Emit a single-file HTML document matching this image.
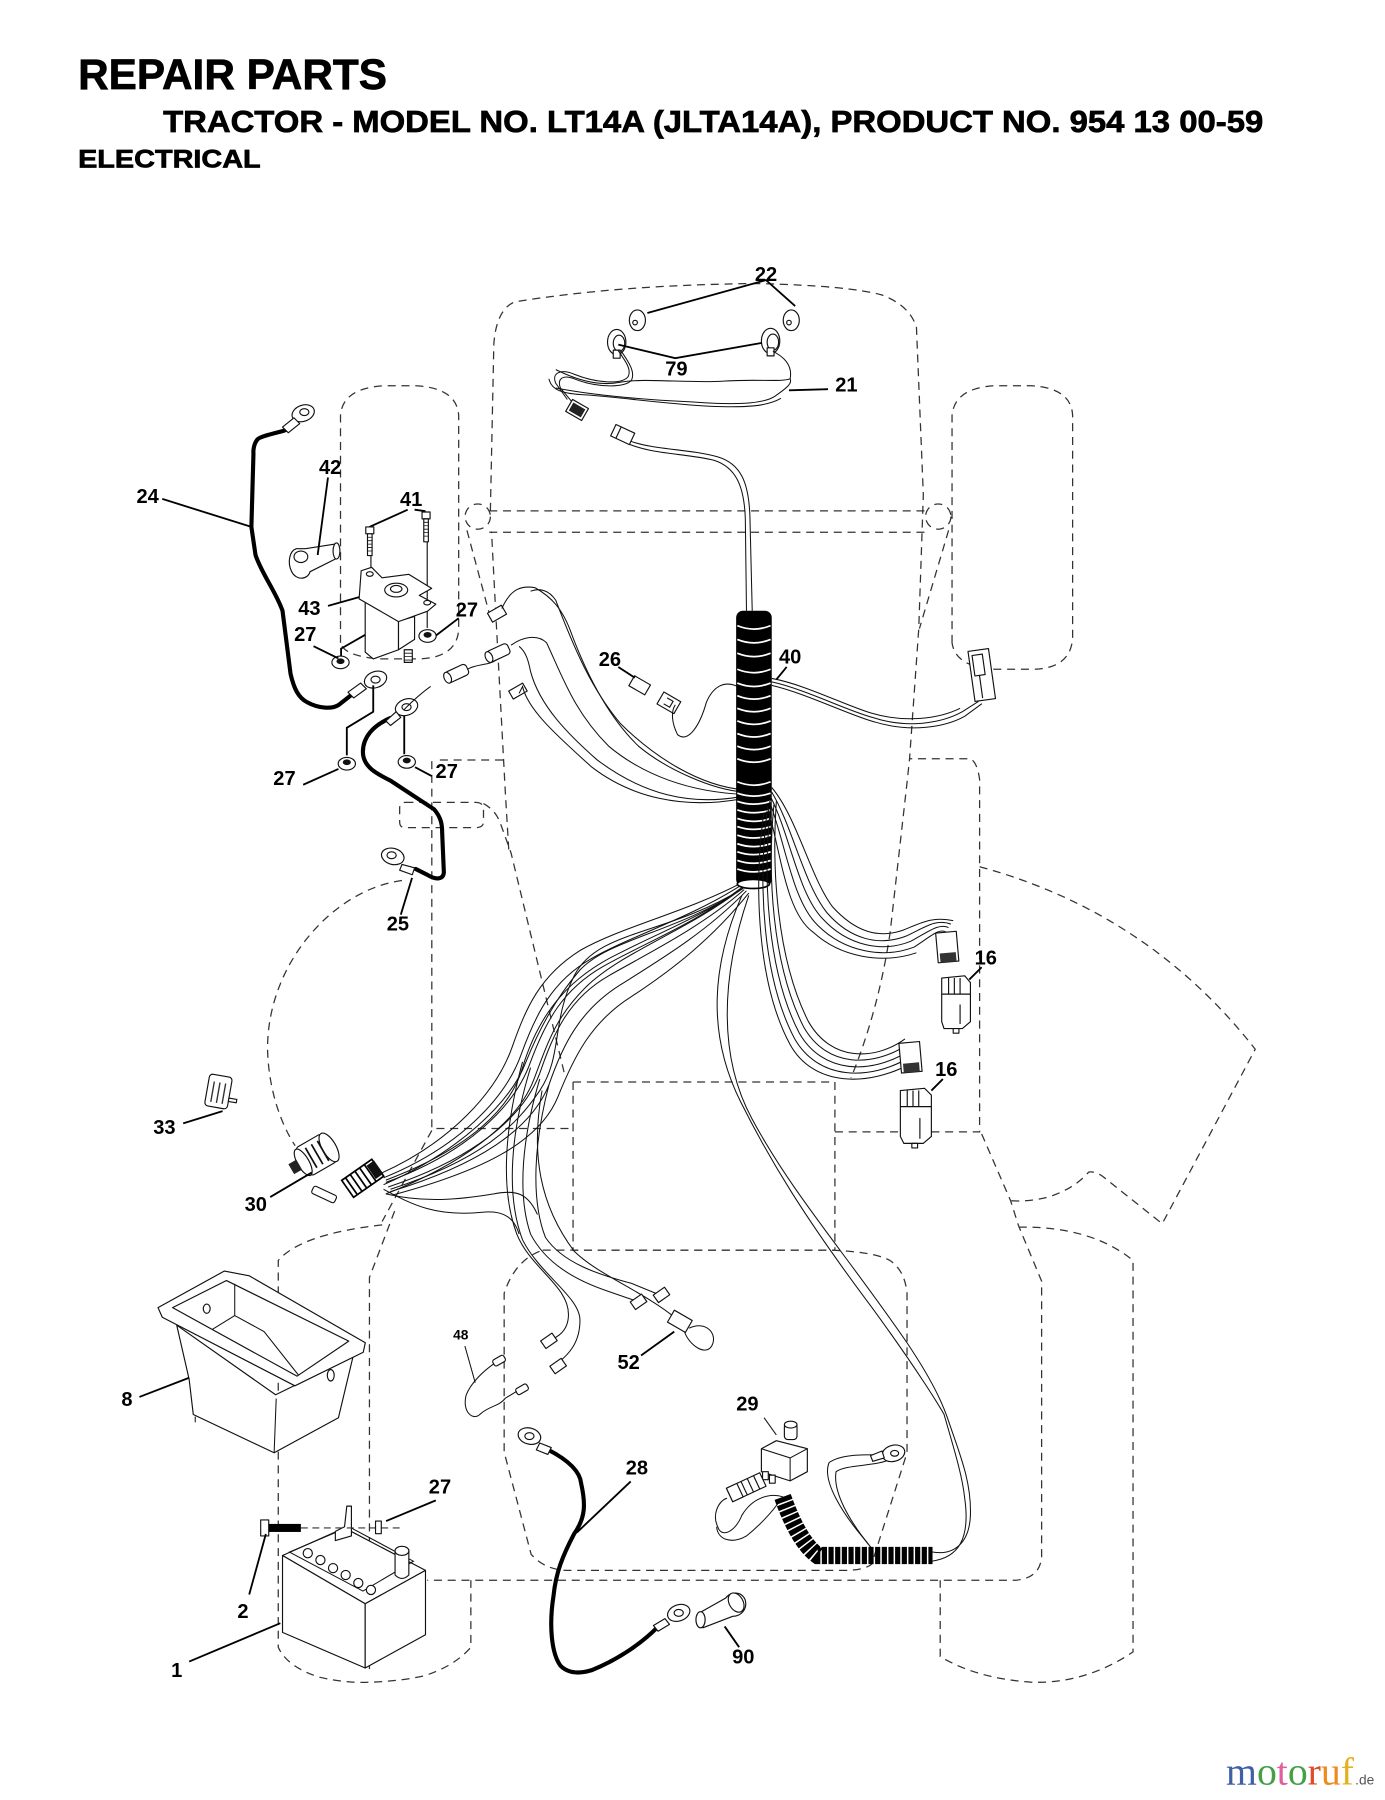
<!DOCTYPE html>
<html><head><meta charset="utf-8"><style>
html,body{margin:0;padding:0;background:#fff;}
svg{display:block;}
.d{fill:none;stroke:#333;stroke-width:1.1;stroke-dasharray:7 5;}
.w{fill:none;stroke:#111;stroke-width:0.9;}
.c{fill:none;stroke:#000;stroke-width:3.6;stroke-linecap:round;stroke-linejoin:round;}
.l{fill:none;stroke:#000;stroke-width:1.6;}
.p{fill:#fff;stroke:#111;stroke-width:1;stroke-linejoin:round;}
.t{font-family:"Liberation Sans",Arial,sans-serif;font-weight:bold;font-size:17.5px;fill:#000;text-anchor:middle;}
.h{font-family:"Liberation Sans",Arial,sans-serif;font-weight:bold;fill:#000;stroke:#000;stroke-width:0.6;}
</style></head><body>
<svg width="1385" height="1800" viewBox="0 0 1206 1568" preserveAspectRatio="none" xmlns="http://www.w3.org/2000/svg">
<rect width="1206" height="1568" fill="#fff"/>
<!-- titles -->
<text class="h" x="68" y="77.5" font-size="37.5" textLength="269" lengthAdjust="spacingAndGlyphs">REPAIR PARTS</text>
<text class="h" x="142" y="115" font-size="26.5" textLength="958" lengthAdjust="spacingAndGlyphs">TRACTOR - MODEL NO. LT14A (JLTA14A), PRODUCT NO. 954 13 00-59</text>
<text class="h" x="68" y="146" font-size="22" textLength="159" lengthAdjust="spacingAndGlyphs">ELECTRICAL</text>

<!-- dashed tractor outline -->
<path class="d" d="M443,740 L440,690 L432,540 L428,463 M427,445 L430,300 Q432,270 448,263 Q540,248 660,247 Q740,249 768,257 Q792,266 798,285 L804,431 L800,548 L792,661 L790,680 L775,813 Q765,880 741,939"/>
<path class="d" d="M426,445 H806 M426,463.6 H806"/>
<circle class="d" cx="416" cy="450" r="11"/>
<circle class="d" cx="817" cy="450" r="11"/>
<path class="d" d="M406.6,462 L428,541.6 M826,462 L800.6,547.6"/>
<path class="d" d="M296.5,560 V362 Q298,338 335,336 H362 Q398,338 399.4,362 V548 Q398,574 362,574 H332 Q300,572 296.5,560 Z"/>
<path class="d" d="M829,560 V362 Q831,338 866,336 H898 Q933,338 934,362 V556 Q932,583 898,583 H866 Q832,581 829,560 Z"/>
<path class="d" d="M383,662 H439 M376,663 V983 H495"/>
<path class="d" d="M353,699 H414 Q421,699 421,705 V716 Q421,721 414,721 H353 Q348,721 348,716 V704 Q348,699 353,699 Z M421,700 Q432,706 436,718 L445,743 L491.6,935.8"/>
<path class="d" d="M499,942.5 H727 V1089 M499,942.5 V1089 H727"/>
<path class="d" d="M727,986 H853 V679 Q851,664 845,661 H792"/>
<path class="d" d="M853,755 Q1000,795 1093,914 L1012,1066 L963,1027 Q955,1020 948,1021 Q935,1036 912,1043 Q895,1047 880,1046"/>
<path class="d" d="M854.8,987.8 L880,1046 L887,1068 L907,1116 V1357 Q905,1375 884,1376.6 H372"/>
<path class="d" d="M887,1069 Q950,1068 986.6,1098 V1439 Q945,1467 898,1465.4 Q850,1462 818.7,1443 V1376.6"/>
<path class="d" d="M469.8,1090 Q448,1099 439,1126.6 V1265 L462.5,1354 Q475,1368 495,1368 H735 Q752,1368 759,1362.6 L789.8,1265.5 V1126.6 Q788,1107 775,1098 Q760,1090 721,1089 H469.8"/>
<path class="d" d="M332.8,1067 Q262,1075 242.3,1098 V1435 Q250,1452 278,1461 Q300,1466 318,1465.5 Q345,1465 368.7,1460 Q395,1452 410,1435 V1376.6"/>
<path class="d" d="M343.6,1055 L321.7,1112.8 V1454 M376,984.7 L332.8,1064"/>
<path class="d" d="M350,767 C290,775 232,840 233,915 C234,950 245,980 257,998"/>

<!-- headlights -->
<ellipse class="p" cx="555" cy="279" rx="7" ry="9"/><circle cx="553" cy="281" r="2" class="p"/>
<ellipse class="p" cx="537" cy="298" rx="8" ry="11"/><ellipse class="p" cx="539" cy="299" rx="5" ry="7"/>
<rect class="p" x="534" y="305" width="6" height="7"/>
<ellipse class="p" cx="689" cy="279" rx="7" ry="9"/><circle cx="687" cy="281" r="2" class="p"/>
<ellipse class="p" cx="671" cy="297" rx="8" ry="11"/><ellipse class="p" cx="673" cy="298" rx="5" ry="7"/>
<rect class="p" x="668" y="303" width="6" height="7"/>
<path class="l" d="M563.7,272.7 L667,244 L692.4,266.6 M538.4,300.2 L588,312 L663.5,298.7"/>
<!-- headlight harness -->
<path class="w" d="M538,305 C545,315 550,322 547,328 C542,335 520,334 500,326 C488,321 480,325 484,334 L494,348"/>
<path class="w" d="M541,306 C548,316 553,324 550,331 C545,338 520,338 500,330 C490,326 485,330 488,338 L498,350"/>
<path class="w" d="M484,322 C500,330 520,337 540,333 C560,329 600,334 630,332 C660,330 680,333 688,330 C690,320 685,312 673,306"/>
<path class="w" d="M484,338 C520,345 560,348 600,350 C640,353 665,352 675,345 C685,338 690,334 688,330"/>
<path class="w" d="M478,330 C480,340 490,343 510,344 C540,346 580,352 620,354 C650,355 668,354 680,347"/>
<path class="w" d="M548,384 C570,392 600,391 625,398 C645,404 652,420 653,450 L655,532"/>
<path class="w" d="M548,387 C570,396 598,395 622,401 C640,407 648,422 649,452 L650,532"/>
<g transform="rotate(30 502 358)"><rect class="p" x="494" y="351" width="16" height="12"/><rect x="496" y="353" width="12" height="8" fill="#222"/></g>
<g transform="rotate(25 542 379)"><rect class="p" x="533" y="373" width="18" height="11"/><line x1="538" y1="373" x2="538" y2="384" stroke="#111"/></g>
<text class="t" x="667" y="245">22</text>
<text class="t" x="589" y="327">79</text>
<text class="t" x="737" y="341">21</text>
<path class="l" d="M721,339 L687,340"/>

<!-- cable 24 -->
<path class="c" d="M250,374 L247.7,375 C238,378 226,380 224,383 C220,388 220.7,395 220.7,395 L218.9,459 L222.5,483.5 C228,500 240,515 246,532 L253,587 C256,600 260,608 267.6,611.8 C277,617 289,618 295,614 L305.5,605.7"/>
<ellipse class="p" cx="264" cy="360" rx="10" ry="7" transform="rotate(-20 264 360)"/><ellipse cx="265" cy="359" rx="4" ry="3" class="p"/>
<path class="p" d="M246,372 L256,364 L261,369 L251,377 Z"/>
<ellipse class="p" cx="327" cy="592" rx="10" ry="7" transform="rotate(-20 327 592)"/><ellipse cx="327" cy="592" rx="4" ry="3" class="p"/>
<path class="p" d="M303,603 L314,595 L319,600 L308,608 Z"/>
<text class="t" x="128.6" y="438">24</text>
<path class="l" d="M141.3,434.6 L218.9,459"/>
<!-- 42 boot -->
<path class="p" d="M258,478 C252,480 250,490 254,498 C258,506 268,505 270,498 L294,486 L291,474 L266,478 Z"/>
<ellipse class="p" cx="293" cy="480" rx="3" ry="7"/>
<ellipse class="p" cx="262" cy="485" rx="6" ry="5"/>
<text class="t" x="287.5" y="413">42</text>
<path class="l" d="M285.6,416 L276.6,483.5"/>
<!-- 41 bolts -->
<text class="t" x="358" y="441">41</text>
<path class="l" d="M355,444 L321.7,459 M361,444 L370.5,445.3"/>
<rect class="p" x="318.5" y="459" width="7" height="6"/>
<rect class="p" x="320" y="465" width="4" height="19"/>
<path d="M320,468 h4 M320,471 h4 M320,474 h4 M320,477 h4 M320,480 h4" stroke="#111" stroke-width="0.7"/>
<line x1="323" y1="484" x2="323" y2="497" stroke="#111"/>
<rect class="p" x="367.5" y="446" width="7" height="6"/>
<rect class="p" x="369" y="452" width="4" height="20"/>
<path d="M369,455 h4 M369,458 h4 M369,461 h4 M369,464 h4 M369,467 h4" stroke="#111" stroke-width="0.7"/>
<line x1="372" y1="472" x2="372" y2="547" stroke="#111"/>
<!-- solenoid 43 -->
<path class="p" d="M318,523 L318,568 L325,574 L347,566 L347,541 Z"/>
<path class="p" d="M347,541 L361,537 L361,557 L347,566 Z"/>
<path class="p" d="M314.5,497.2 L323.6,494.2 L332.6,503.3 L356,500.3 L375.9,512.5 L365.1,518.6 L379.5,526.3 L372.3,532.4 L347,541.5 L312.7,521.7 Z"/>
<ellipse class="p" cx="345" cy="514" rx="10" ry="6"/><ellipse class="p" cx="345" cy="513" rx="5" ry="3"/>
<ellipse cx="322" cy="500" rx="3" ry="2" class="p"/><ellipse cx="372" cy="525" rx="3" ry="2" class="p"/>
<rect class="p" x="352" y="566" width="7" height="11"/>
<path d="M352,569 h7 M352,572 h7 M352,575 h7" stroke="#111" stroke-width="0.7"/>
<path class="l" d="M297,576 L297,565 L318,553"/>
<text class="t" x="269.4" y="535.6">43</text>
<path class="l" d="M285.6,527.8 L312.7,520.2"/>
<!-- nuts 27 -->
<g class="p"><ellipse cx="372.3" cy="554" rx="7.5" ry="5.5"/><ellipse cx="296.5" cy="577" rx="7.5" ry="5.5"/><ellipse cx="302" cy="665.3" rx="7.5" ry="5.5"/><ellipse cx="354.2" cy="663.7" rx="7.5" ry="5.5"/></g>
<g fill="#111"><ellipse cx="372.3" cy="553" rx="3.5" ry="2.5"/><ellipse cx="296.5" cy="576" rx="3.5" ry="2.5"/><ellipse cx="302" cy="664" rx="3.5" ry="2.5"/><ellipse cx="354.2" cy="662.5" rx="3.5" ry="2.5"/></g>
<text class="t" x="406.6" y="537">27</text><path class="l" d="M399.4,538.5 L379.5,553.7"/>
<text class="t" x="265.8" y="558.5">27</text><path class="l" d="M273,562.9 L294.7,573.6"/>
<text class="t" x="247.7" y="684">27</text><path class="l" d="M264,683.6 L294.7,669.8"/>
<text class="t" x="389" y="677.7">27</text><path class="l" d="M375.9,676 L361.4,668.3"/>
<path class="l" d="M325,597 L325,620 L302,634 L302,658 M352,620 L352,657"/>
<!-- cable 25 -->
<path class="c" d="M339.8,625.5 C325,632 316,642 316,655 C316,668 328,674 340,680 L378,705 C384,712 385,718 385,725 L386.5,760 C386,766 380,767 372,762 L362,757"/>
<ellipse class="p" cx="354" cy="616" rx="10" ry="7" transform="rotate(-20 354 616)"/><ellipse cx="354" cy="616" rx="4" ry="3" class="p"/>
<path class="p" d="M336,628 L345,620 L349,625 L340,632 Z"/>
<ellipse class="p" cx="342" cy="746" rx="10" ry="7" transform="rotate(15 342 746)"/><ellipse cx="341" cy="745" rx="4" ry="3" class="p"/>
<path class="p" d="M350,753 L361,756 L359,762 L348,758 Z"/>
<text class="t" x="346.5" y="810.7">25</text>
<path class="l" d="M349,796.8 L358.8,764.7"/>

<!-- small connectors near solenoid -->
<g transform="rotate(-30 433 535)"><rect class="p" x="426" y="530" width="14" height="9"/></g>
<g transform="rotate(-25 433 569)"><rect class="p" x="424" y="564" width="20" height="10" rx="3"/><ellipse class="p" cx="425" cy="569" rx="3" ry="5"/></g>
<g transform="rotate(-25 397 587)"><rect class="p" x="388" y="582" width="20" height="10" rx="3"/><ellipse class="p" cx="389" cy="587" rx="3" ry="5"/></g>
<g transform="rotate(-30 451 602)"><rect class="p" x="444" y="598" width="14" height="8"/></g>
<path class="w" d="M407,583 C415,578 425,580 432,575 M375,598 C365,605 358,612 352,618"/>
<!-- 26 -->
<g transform="rotate(30 557 597)"><rect class="p" x="549" y="592" width="16" height="10"/></g>
<g transform="rotate(30 582 612)"><rect class="p" x="574" y="606" width="17" height="12"/><path d="M579,609 h6 v6 h-6" fill="none" stroke="#111"/></g>
<text class="t" x="531.1" y="580">26</text>
<path class="l" d="M538.4,581 L552.8,590.4"/>
<!-- wires upper left into tube -->
<path class="w" d="M648,690 C620,688 580,670 556,650 C530,625 512,590 498,553 C490,530 480,520 466,512 C455,510 445,512 437,530"/>
<path class="w" d="M648,688 C610,685 570,660 540,630 C515,600 500,565 484,523 C478,514 470,512 462,515"/>
<path class="w" d="M648,692 C600,690 560,675 530,650 C500,620 490,590 476,560 C468,552 455,555 445,562"/>
<path class="w" d="M645,694 C600,702 560,692 520,662 C495,640 470,615 462,585 C460,575 458,568 452,563"/>
<path class="w" d="M645,696 C595,705 550,695 515,668 C490,645 460,620 455,598 L452,604"/>
<path class="w" d="M646,600 C630,590 620,600 615,612 C610,630 600,648 590,640 C585,630 584,620 588,614"/>
<path class="w" d="M672,594 C700,600 740,620 760,625 C790,635 820,630 838,620 L852,611"/>
<path class="w" d="M672,597 C702,604 742,624 762,629 C792,638 822,634 840,624 L855,613"/>
<path class="w" d="M672,591 C700,596 735,614 758,621 C788,630 818,626 836,617"/>
<g transform="rotate(-8 855 589)"><rect class="p" x="846" y="566" width="18" height="44"/><rect class="p" x="849" y="570" width="9" height="18"/><line x1="853" y1="588" x2="853" y2="608" stroke="#111"/></g>

<!-- tube 40 -->
<rect x="641" y="532" width="31" height="240" rx="6" fill="#000"/>
<g fill="none" stroke="#fff" stroke-width="1.5">
<path d="M642,545 Q656.5,551 671,545 M642,557 Q656.5,563 671,557 M642,569 Q656.5,575 671,569 M642,583 Q656.5,589 671,583 M642,595 Q656.5,601 671,595 M642,606 Q656.5,612 671,606 M642,617 Q656.5,623 671,617 M642,628 Q656.5,634 671,628 M642,639 Q656.5,645 671,639 M642,650 Q656.5,656 671,650 M642,661 Q656.5,667 671,661 M642,681 Q656.5,687 671,681"/>
<path d="M642,691 Q656.5,696 671,691 M642,698 Q656.5,703 671,698 M642,705.5 Q656.5,710.5 671,705.5 M642,713 Q656.5,718 671,713 M642,720 Q656.5,725 671,720 M642,727.5 Q656.5,732.5 671,727.5 M642,735 Q656.5,740 671,735 M642,742 Q656.5,747 671,742 M642,749.5 Q656.5,754.5 671,749.5 M642,757 Q656.5,762 671,757"/>
</g>
<ellipse cx="656" cy="770" rx="14" ry="4" fill="#fff" stroke="#000" stroke-width="1.5"/>
<text class="t" x="688" y="578">40</text>
<path class="l" d="M685,581 L676,592"/>

<!-- fan to ignition -->
<g class="w">
<path d="M646,773 C605,805 560,822 525,842 C490,862 475,890 462,925 C448,965 405,1005 336,1030"/>
<path d="M648,775 C610,808 565,830 530,850 C495,870 482,900 470,935 C455,975 410,1010 338,1034"/>
<path d="M644,772 C600,800 550,815 515,835 C480,855 466,885 454,918 C440,958 398,1000 334,1026"/>
<path d="M650,776 C615,812 575,836 540,858 C505,880 490,910 478,945 C462,985 415,1015 340,1038"/>
<path d="M642,771 C595,795 540,808 505,828 C470,850 458,878 446,912 C432,952 392,995 332,1022"/>
<path d="M652,778 C620,818 585,845 550,868 C515,890 500,920 486,955 C470,995 420,1020 342,1041"/>
<path d="M646,774 C600,810 540,830 510,860 C485,885 478,905 465,940 C450,980 400,1015 336,1040"/>
<path d="M648,773 C612,798 575,812 540,830 C498,850 470,880 455,930 C445,965 410,1000 336,1028"/>
<path d="M645,775 C580,815 520,810 500,850 C480,890 490,920 470,950 C450,980 420,1010 340,1036"/>
<path d="M647,774 C590,812 530,818 505,845 C485,868 470,895 458,925 C445,960 400,1003 334,1032"/>
<path d="M336,1040 C370,1048 400,1045 430,1040 C450,1036 460,1040 468,1058"/>
<path d="M334,1036 C360,1050 380,1060 420,1056 C440,1054 448,1062 452,1075"/>
<path d="M470,940 C455,990 450,1040 462,1075 C475,1100 500,1115 530,1125 L553,1133"/>
<path d="M478,945 C465,995 462,1045 475,1078 C490,1100 520,1110 550,1118 L572,1127"/>
<path d="M462,930 C445,985 440,1040 455,1080 C470,1110 505,1130 505,1150 C505,1170 495,1180 485,1188"/>
<path d="M455,925 C440,980 435,1035 450,1075 C462,1105 495,1120 495,1145 C495,1160 485,1165 478,1168"/>
<path d="M472,950 C462,1005 470,1050 500,1090 C520,1110 560,1125 588,1148"/>
</g>
<!-- wires to 16 -->
<g class="w">
<path d="M672,690 C690,720 700,770 720,795 C740,818 765,825 790,815 C805,808 815,800 828,805"/>
<path d="M671,694 C688,728 695,778 716,800 C738,824 768,830 793,820 C808,812 817,804 826,808"/>
<path d="M670,698 C684,735 690,785 712,806 C736,830 770,835 796,825 C810,816 818,808 824,812"/>
<path d="M672,686 C694,712 706,765 725,790 C745,812 765,818 787,810 C802,804 812,798 830,802"/>
<path d="M668,702 C680,742 684,795 708,812 C732,834 768,840 798,830"/>
<path d="M674,700 C668,760 672,840 700,895 C720,930 760,930 790,910"/>
<path d="M671,703 C664,765 668,846 696,900 C716,935 758,937 792,915"/>
<path d="M668,706 C660,770 664,852 692,905 C712,940 756,943 794,920"/>
<path d="M676,698 C672,755 676,835 704,890 C724,925 762,924 788,905"/>
<path d="M665,708 C656,775 660,858 688,910 C708,946 755,948 796,925"/>
</g>
<!-- 16 connectors -->
<g transform="rotate(-5 825 827)"><rect class="p" x="816" y="812" width="18" height="26"/><rect x="818" y="830" width="14" height="8" fill="#333"/></g>
<g transform="rotate(-5 793 923)"><rect class="p" x="784" y="908" width="18" height="26"/><rect x="786" y="926" width="14" height="8" fill="#333"/></g>
<g class="p"><path d="M820,852 L840,850 L845,856 L845,890 L838,896 L822,896 L820,890 Z"/><path d="M826,852 V866 M831,852 V866 M836,852 V866 M820,866 H845 M836,875 V892"/><rect x="830" y="896" width="5" height="4"/></g>
<g class="p"><path d="M784,950 L805,948 L811,954 L811,990 L804,996 L787,996 L784,990 Z"/><path d="M790,950 V964 M795,950 V964 M800,950 V964 M784,964 H811 M801,974 V992"/><rect x="794" y="996" width="5" height="4"/></g>
<text class="t" x="858.4" y="840">16</text><path class="l" d="M854.8,842.6 L844,853.3"/>
<text class="t" x="824" y="937.5">16</text><path class="l" d="M821,940 L811,950"/>

<!-- ignition 30, key 33 -->
<g transform="rotate(-30 277 1005)">
<rect class="p" x="262" y="991" width="26" height="28" rx="3"/>
<ellipse class="p" cx="288" cy="1005" rx="6" ry="14"/>
<ellipse class="p" cx="262" cy="1005" rx="5" ry="13"/>
<rect x="250" y="1000" width="8" height="10" fill="#222"/>
<path d="M270,995 v20 M276,995 v20 M282,995 v20" stroke="#111" stroke-width="1.5"/>
</g>
<g transform="rotate(-35 315 1027)"><rect x="300" y="1018" width="32" height="18" fill="#fff" stroke="#000" stroke-width="1.5"/><path d="M304,1018 v18 M309,1018 v18 M314,1018 v18 M319,1018 v18 M324,1018 v18" stroke="#000" stroke-width="1.5"/><rect x="325" y="1020" width="8" height="14" fill="#111"/></g>
<g transform="rotate(25 282 1041)"><rect class="p" x="271" y="1037" width="22" height="7" rx="2"/></g>
<text class="t" x="222.7" y="1055">30</text><path class="l" d="M235.3,1042.8 L271.4,1021.4"/>
<g transform="rotate(10 191 952)"><rect class="p" x="180" y="937" width="20" height="28" rx="3"/><path d="M185,943 v18 M190,943 v18 M195,943 v18" stroke="#333" stroke-width="1.2"/><path class="p" d="M200,955 L207,955 L207,958 L200,958 Z"/></g>
<text class="t" x="143.2" y="988">33</text><path class="l" d="M159.5,978.6 L193.8,967.9"/>

<!-- battery box 8 -->
<path class="p" d="M153.9,1154.4 L164.7,1201.6 L168.3,1232.2 L238.7,1265.5 L294.7,1235 L307.3,1182.2 L240,1215 Z"/>
<path class="w" d="M240.5,1218.3 L238.7,1265.5"/>
<path class="p" d="M137.6,1139.1 L195.4,1107.2 L217.1,1111.4 L318.1,1169.7 L316.3,1178 L256.8,1207.2 L141.3,1147.5 Z"/>
<path class="p" d="M150.3,1139.1 L197.2,1115.5 L303.7,1168.3 L258.6,1198.8 Z"/>
<path class="w" d="M204.4,1118.3 V1146 L185,1158 M204.4,1146 L230,1160 L260,1198"/>
<ellipse class="p" cx="180" cy="1140" rx="3" ry="4"/><ellipse class="p" cx="288" cy="1198" rx="3" ry="5"/>
<path class="w" d="M170,1234 v5"/>
<text class="t" x="110.6" y="1224.6">8</text><path class="l" d="M121.4,1216.9 L164.7,1200.2"/>

<!-- battery 1 -->
<path class="p" d="M246,1355 L300,1331 L370.5,1368 L318,1397 Z"/>
<path class="p" d="M246,1355 L318,1397 L318,1453 L246,1422 Z"/>
<path class="p" d="M318,1397 L370.5,1368 L370.5,1424 L318,1453 Z"/>
<path class="w" d="M252,1352 L304,1330 L360,1360 L316,1386 Z"/>
<g class="p"><circle cx="268" cy="1353" r="4"/><circle cx="279" cy="1359" r="4"/><circle cx="290" cy="1366" r="4"/><circle cx="301" cy="1372" r="4"/><circle cx="312" cy="1379" r="4"/><circle cx="323" cy="1385" r="4"/></g>
<path class="p" d="M344,1352 L356,1350 L356,1372 Q350,1378 344,1372 Z"/><ellipse class="p" cx="350" cy="1351" rx="6" ry="4"/>
<path class="p" d="M292,1334 L300,1330 L302,1312 L306,1312 L306,1338 L292,1342 Z"/>
<path d="M262,1331 H350" stroke="#333" stroke-width="1" stroke-dasharray="6 4" fill="none"/>
<rect class="p" x="227" y="1324" width="7" height="14"/>
<rect x="234" y="1327.5" width="28" height="7" fill="#000"/>
<rect class="p" x="327" y="1325" width="5" height="11"/>
<text class="t" x="153.9" y="1460.7">1</text><path class="l" d="M164.7,1447.4 L244.1,1414"/>
<text class="t" x="211.6" y="1409.3">2</text><path class="l" d="M217,1389 L231.5,1336.3"/>
<text class="t" x="383.1" y="1301">27</text><path class="l" d="M379.5,1307 L336.2,1325"/>

<!-- 48, 52 terminals -->
<g class="p">
<g transform="rotate(-35 556 1134)"><rect x="550" y="1130" width="12" height="8"/></g>
<g transform="rotate(-35 576 1128)"><rect x="570" y="1124" width="12" height="8"/></g>
<g transform="rotate(-35 478 1168)"><rect x="472" y="1164" width="12" height="8"/></g>
<g transform="rotate(-35 486 1190)"><rect x="480" y="1186" width="12" height="8"/></g>
<g transform="rotate(30 592 1151)"><rect x="583" y="1145" width="18" height="12"/></g>
<g transform="rotate(-30 435 1185)"><rect x="429" y="1182" width="11" height="6" rx="2"/></g>
<g transform="rotate(-30 455 1210)"><rect x="449" y="1207" width="11" height="6" rx="2"/></g>
</g>
<path class="w" d="M600,1157 C615,1150 625,1162 620,1172 C615,1182 600,1172 596,1160"/>
<path class="w" d="M430,1188 C420,1195 410,1205 406,1215 C402,1230 412,1238 418,1232 C425,1225 435,1225 440,1218 L450,1212"/>
<text class="t" x="401.2" y="1166.7" style="font-size:12px">48</text><path class="w" d="M404.8,1172.5 L413.8,1204.4" stroke-width="1.2"/>
<text class="t" x="547.4" y="1192.6">52</text><path class="l" d="M558.2,1180.8 L587.1,1160"/>

<!-- cable 28 -->
<path class="c" d="M477,1262.7 C495,1272 505,1282 506,1292 C510,1310 510,1322 500,1336 C490,1355 484,1370 482,1390 C478,1415 480,1440 488,1451 C495,1458 505,1458 515,1455 C540,1445 560,1430 572,1418"/>
<ellipse class="p" cx="461" cy="1251" rx="10" ry="7" transform="rotate(15 461 1251)"/><ellipse cx="461" cy="1251" rx="4" ry="3" class="p"/>
<path class="p" d="M470,1257 L480,1261 L477,1267 L467,1263 Z"/>
<ellipse class="p" cx="591" cy="1405" rx="10" ry="7" transform="rotate(-20 591 1405)"/><ellipse cx="591" cy="1405" rx="4" ry="3" class="p"/>
<path class="p" d="M569,1416 L579,1410 L583,1415 L573,1421 Z"/>
<text class="t" x="554.6" y="1284.3">28</text><path class="l" d="M549.2,1290.5 L502.3,1335"/>
<!-- 90 -->
<path class="p" d="M609,1405 L632,1392 C636,1386 646,1386 649,1394 C651,1402 645,1408 638,1408 L612,1418 Z"/>
<ellipse class="p" cx="610" cy="1411" rx="4" ry="7"/>
<ellipse class="p" cx="641" cy="1396" rx="6" ry="9" transform="rotate(-30 641 1396)"/>
<text class="t" x="647.2" y="1449.3">90</text><path class="l" d="M643.6,1434.9 L631,1416.8"/>

<!-- long wires to bottom right -->
<g class="w">
<path d="M646,780 C620,840 615,900 645,960 C670,1010 700,1060 760,1140 C800,1195 818,1225 822,1232 C830,1260 838,1285 840,1305 C845,1340 835,1357 811,1360"/>
<path d="M652,780 C628,850 625,920 655,975 C690,1040 735,1090 790,1170 C810,1200 820,1220 826,1238 C835,1265 846,1290 845,1320 C844,1345 830,1355 812,1352"/>
<path d="M775,1267 C760,1268 735,1265 722,1274 C715,1290 735,1320 752,1340 L760,1350"/>
<path d="M777,1270 C765,1278 738,1275 728,1282 C725,1300 740,1325 756,1345"/>
<path d="M682,1304 C670,1300 655,1305 646,1320 C640,1335 628,1340 625,1330 C620,1320 625,1308 633,1305"/>
<path d="M680,1306 C672,1318 660,1330 650,1338 C638,1345 625,1342 624,1330"/>
</g>
<!-- coil -->
<path d="M681.5,1304 C688,1322 698,1345 712,1355 L812,1355" fill="none" stroke="#000" stroke-width="15" stroke-dasharray="4.5 1.3"/>
<!-- ring terminal near coil -->
<ellipse class="p" cx="778" cy="1266" rx="10" ry="7" transform="rotate(-15 778 1266)"/><ellipse cx="779" cy="1266" rx="3.5" ry="2.5" class="p"/>
<path class="p" d="M758,1268 L768,1264 L770,1270 L760,1273 Z"/>
<!-- 29 switch -->
<path class="p" d="M663,1262 L676,1255 L703,1262 L703,1282 L688,1290 L663,1282 Z"/>
<path class="w" d="M663,1262 L688,1270 L703,1262 M688,1270 V1290"/>
<rect class="p" x="683" y="1240" width="11" height="14" rx="3"/><ellipse class="p" cx="688.5" cy="1241" rx="5.5" ry="3"/>
<rect class="p" x="664" y="1282" width="5" height="7"/><rect class="p" x="670" y="1285" width="5" height="7"/>
<g transform="rotate(-25 650 1296)"><rect class="p" x="634" y="1289" width="32" height="13"/><rect class="p" x="634" y="1289" width="10" height="13"/><path d="M648,1289 v13 M654,1289 v13 M660,1289 v13" stroke="#111"/></g>
<text class="t" x="650.8" y="1228.7">29</text><path class="w" d="M665.3,1235 L676,1250" stroke-width="1.4"/>

<!-- watermark -->
<text x="1067.6" y="1554.4" font-family="Liberation Serif, serif" font-size="34" textLength="111.4" lengthAdjust="spacingAndGlyphs"><tspan fill="#3f5fa8">m</tspan><tspan fill="#43a047">o</tspan><tspan fill="#e0609f">t</tspan><tspan fill="#43a047">o</tspan><tspan fill="#e04a2a">r</tspan><tspan fill="#ef8a1f">u</tspan><tspan fill="#e5b020">f</tspan></text>
<text x="1180" y="1554.4" font-family="Liberation Sans, sans-serif" font-size="12" fill="#555">.de</text>
</svg>
</body></html>
